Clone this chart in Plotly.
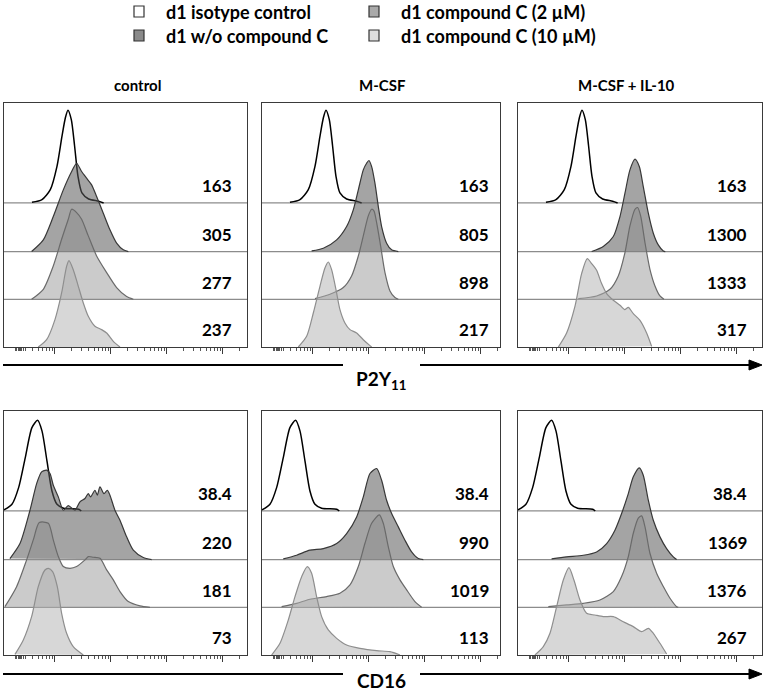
import math
import plotly.graph_objects as go

# ---------------- data (x = log10 fluorescence, y = normalized count, % of mode) ----------------
COLUMNS = ["control", "M-CSF", "M-CSF + IL-10"]
MARKERS = ["P2Y<sub>11</sub>", "CD16"]
SAMPLES = ["d1 isotype control", "d1 w/o compound C", "d1 compound C (2 µM)", "d1 compound C (10 µM)"]

MFI_P2Y11 = [["163", "305", "277", "237"],
             ["163", "805", "898", "217"],
             ["163", "1300", "1333", "317"]]
MFI_CD16 = [["38.4", "220", "181", "73"],
            ["38.4", "990", "1019", "113"],
            ["38.4", "1369", "1376", "267"]]

# P2Y11 isotype (same sample in all columns)
PISO_X = [1.589, 1.768, 1.917, 2.036, 2.125, 2.185, 2.232, 2.292, 2.351, 2.411, 2.482, 2.601, 2.780, 2.869]
PISO_Y = [0.7, 3.7, 14.8, 40.7, 74.0, 94.4, 103.0, 92.6, 63.0, 29.6, 11.1, 4.4, 1.9, 0]

P_CTRL_WO_X = [1.583, 1.792, 1.970, 2.149, 2.298, 2.387, 2.476, 2.565, 2.655, 2.744, 2.863, 2.982, 3.101, 3.220, 3.310]
P_CTRL_WO_Y = [0, 13.0, 38.9, 68.5, 88.9, 98.1, 88.9, 81.5, 74.1, 61.1, 42.6, 24.1, 9.3, 1.9, 0]
P_CTRL_2_X = [1.583, 1.792, 1.970, 2.119, 2.238, 2.298, 2.387, 2.476, 2.595, 2.744, 2.923, 3.101, 3.280, 3.399]
P_CTRL_2_Y = [0, 11.1, 37.0, 66.7, 88.9, 100.0, 96.3, 88.9, 70.4, 48.1, 29.6, 13.0, 3.0, 0]
P_CTRL_10_X = [1.702, 1.851, 2.000, 2.119, 2.208, 2.250, 2.327, 2.417, 2.506, 2.595, 2.714, 2.833, 2.923, 3.042, 3.161]
P_CTRL_10_Y = [0, 8.1, 30.4, 60.0, 89.6, 95.9, 85.9, 67.4, 48.9, 34.1, 23.0, 19.3, 15.6, 6.3, 0]

P_MCSF_WO_X = [1.976, 2.185, 2.423, 2.601, 2.720, 2.810, 2.899, 2.958, 3.000, 3.048, 3.107, 3.167, 3.226, 3.315, 3.405, 3.524]
P_MCSF_WO_Y = [0.7, 3.7, 13.0, 27.8, 46.3, 68.5, 90.7, 98.1, 101.1, 94.4, 75.9, 50.0, 27.8, 9.3, 1.9, 0]
P_MCSF_2_X = [2.036, 2.304, 2.542, 2.690, 2.810, 2.899, 2.988, 3.048, 3.089, 3.137, 3.208, 3.286, 3.375, 3.464, 3.524]
P_MCSF_2_Y = [0.7, 5.6, 13.0, 25.9, 48.1, 70.4, 92.6, 100.0, 98.1, 85.2, 59.3, 29.6, 9.3, 1.9, 0]
P_MCSF_10_X = [1.738, 1.887, 2.006, 2.125, 2.214, 2.274, 2.333, 2.411, 2.482, 2.571, 2.661, 2.780, 2.899, 3.018, 3.048]
P_MCSF_10_Y = [0, 11.9, 37.8, 67.4, 87.8, 94.4, 85.9, 63.7, 41.5, 26.7, 19.3, 15.6, 8.1, 1.5, 0]

P_IL10_WO_X = [2.405, 2.613, 2.792, 2.911, 3.000, 3.089, 3.179, 3.256, 3.327, 3.417, 3.506, 3.595, 3.685, 3.720]
P_IL10_WO_Y = [0, 5.6, 16.7, 38.9, 64.8, 90.7, 102.6, 94.4, 72.2, 42.6, 20.4, 7.4, 0.7, 0]
P_IL10_2_X = [2.167, 2.494, 2.732, 2.881, 3.000, 3.089, 3.179, 3.226, 3.280, 3.357, 3.446, 3.536, 3.625, 3.696]
P_IL10_2_Y = [0.7, 3.7, 11.1, 25.9, 51.9, 81.5, 100.0, 101.9, 92.6, 63.0, 33.3, 14.8, 3.7, 0]
P_IL10_10_X = [1.810, 1.958, 2.107, 2.226, 2.327, 2.405, 2.494, 2.583, 2.673, 2.792, 2.911, 2.994, 3.060, 3.149, 3.268, 3.387, 3.476]
P_IL10_10_Y = [0, 15.6, 45.2, 81.5, 98.1, 92.6, 85.2, 70.4, 59.3, 51.9, 46.3, 41.5, 44.0, 37.0, 29.6, 15.6, 0.7]

# CD16 isotype (same sample in all columns)
CISO_X = [1.090, 1.232, 1.351, 1.470, 1.589, 1.690, 1.768, 1.857, 1.946, 2.036, 2.155, 2.423, 2.470]
CISO_Y = [1.1, 7.4, 25.9, 59.3, 92.6, 100.7, 88.9, 55.6, 22.2, 7.4, 3.0, 1.9, 0]

C_CTRL_WO_X = [1.196, 1.375, 1.554, 1.673, 1.762, 1.851, 1.911, 1.970, 2.060, 2.149, 2.238, 2.357, 2.446, 2.536,
               2.595, 2.637, 2.714, 2.756, 2.804, 2.875, 2.935, 2.982, 3.071, 3.161, 3.280, 3.399, 3.577, 3.726]
C_CTRL_WO_Y = [1.1, 17.8, 54.8, 84.4, 97.4, 99.3, 95.6, 82.6, 69.6, 54.8, 60.0, 54.8, 64.1, 67.8,
               73.3, 69.6, 77.0, 71.5, 80.7, 73.3, 77.0, 71.5, 54.8, 43.7, 25.2, 10.4, 2.2, 0]
C_CTRL_2_X = [1.107, 1.315, 1.494, 1.613, 1.720, 1.881, 1.970, 2.060, 2.149, 2.268, 2.387, 2.536, 2.595, 2.685,
              2.804, 2.923, 3.042, 3.161, 3.310, 3.518, 3.696]
C_CTRL_2_Y = [0.7, 22.9, 52.6, 74.8, 94.1, 93.3, 74.8, 56.3, 45.2, 43.3, 45.2, 52.6, 56.3, 55.6,
              54.4, 41.5, 30.4, 17.4, 6.3, 1.5, 0]
C_CTRL_10_X = [1.286, 1.435, 1.583, 1.702, 1.821, 1.881, 1.958, 2.042, 2.119, 2.208, 2.327, 2.506]
C_CTRL_10_Y = [0.7, 16.7, 42.6, 75.9, 94.4, 96.3, 92.6, 75.9, 46.3, 24.1, 9.3, 0]

C_MCSF_WO_X = [1.470, 1.708, 1.946, 2.185, 2.423, 2.601, 2.780, 2.899, 3.018, 3.137, 3.226, 3.315, 3.405, 3.524,
               3.643, 3.762, 3.881, 3.970]
C_MCSF_WO_Y = [0.7, 4.8, 10.4, 12.2, 17.8, 28.9, 47.4, 69.6, 95.6, 101.1, 88.1, 65.9, 51.1, 36.3,
               21.5, 8.5, 1.1, 0]
C_MCSF_2_X = [1.440, 1.708, 1.946, 2.244, 2.482, 2.661, 2.810, 2.929, 3.048, 3.185, 3.256, 3.345, 3.435, 3.554,
              3.673, 3.821, 3.940]
C_MCSF_2_Y = [0.7, 4.4, 8.9, 11.9, 15.6, 24.8, 45.2, 71.1, 93.3, 102.6, 93.3, 67.4, 45.2, 30.4,
              19.3, 6.3, 0]
C_MCSF_10_X = [1.262, 1.411, 1.560, 1.679, 1.798, 1.899, 1.976, 2.065, 2.155, 2.274, 2.423, 2.601, 2.839, 3.137,
               3.375, 3.554]
C_MCSF_10_Y = [0, 13.0, 38.9, 64.8, 87.0, 98.1, 90.7, 64.8, 42.6, 27.8, 18.5, 11.1, 7.4, 4.8, 3.7, 0]

C_IL10_WO_X = [1.690, 1.958, 2.256, 2.494, 2.673, 2.821, 2.940, 3.060, 3.149, 3.256, 3.327, 3.417, 3.506, 3.625,
               3.744, 3.863, 3.923]
C_IL10_WO_Y = [0.7, 3.0, 4.8, 8.5, 17.8, 32.6, 51.1, 73.3, 91.9, 101.9, 93.7, 65.9, 43.7, 25.2, 12.2, 3.0, 0]
C_IL10_2_X = [1.631, 1.958, 2.256, 2.554, 2.792, 2.940, 3.060, 3.149, 3.238, 3.298, 3.357, 3.446, 3.565, 3.685,
              3.804, 3.923, 3.952]
C_IL10_2_Y = [0.7, 2.6, 4.4, 8.1, 17.4, 34.1, 56.3, 82.2, 98.9, 101.5, 89.6, 60.0, 37.8, 23.0, 10.0, 0.7, 0]
C_IL10_10_X = [1.393, 1.542, 1.661, 1.780, 1.899, 2.000, 2.089, 2.196, 2.315, 2.464, 2.613, 2.792, 2.970, 3.149,
               3.298, 3.417, 3.506, 3.625, 3.744]
C_IL10_10_Y = [0, 9.3, 24.1, 53.7, 83.3, 97.0, 83.3, 61.1, 46.3, 44.4, 42.6, 42.6, 37.0, 31.5, 25.9, 29.6, 24.1,
               13.0, 1.1]

ROWS = [
    dict(iso=(PISO_X, PISO_Y), mfi=MFI_P2Y11, cols=[
        [(P_CTRL_WO_X, P_CTRL_WO_Y), (P_CTRL_2_X, P_CTRL_2_Y), (P_CTRL_10_X, P_CTRL_10_Y)],
        [(P_MCSF_WO_X, P_MCSF_WO_Y), (P_MCSF_2_X, P_MCSF_2_Y), (P_MCSF_10_X, P_MCSF_10_Y)],
        [(P_IL10_WO_X, P_IL10_WO_Y), (P_IL10_2_X, P_IL10_2_Y), (P_IL10_10_X, P_IL10_10_Y)],
    ]),
    dict(iso=(CISO_X, CISO_Y), mfi=MFI_CD16, cols=[
        [(C_CTRL_WO_X, C_CTRL_WO_Y), (C_CTRL_2_X, C_CTRL_2_Y), (C_CTRL_10_X, C_CTRL_10_Y)],
        [(C_MCSF_WO_X, C_MCSF_WO_Y), (C_MCSF_2_X, C_MCSF_2_Y), (C_MCSF_10_X, C_MCSF_10_Y)],
        [(C_IL10_WO_X, C_IL10_WO_Y), (C_IL10_2_X, C_IL10_2_Y), (C_IL10_10_X, C_IL10_10_Y)],
    ]),
]

# ---------------- styling / layout ----------------
W, H = 765, 693
FONT = "Lato"
OFFSETS = [160, 106, 53, 0]          # stacking offset of each sample band
YMAX = 271
XMIN = 1.09
PX_PER_DECADE = 56.0
FILLS = [None, "rgba(90,90,90,0.55)", "rgba(140,140,140,0.45)", "rgba(175,175,175,0.5)"]
LINES = ["#000000", "#383838", "#6a6a6a", "#8e8e8e"]
LWIDTH = [1.5, 1.2, 1.2, 1.2]
LEGEND_FILL = ["#ffffff", "#8a8a8a", "#a9a9a9", "#dddddd"]

XDOM = [(4, 247), (262, 500), (518, 762)]
YDOM = [(103, 347), (411, 655)]
NUM_XFRAC = [0.948, 0.961, 0.945]


def px(x):
    return x / W


def py(y):
    return 1 - y / H


MAJOR_TICKS = [2, 3, 4, 5]
MINOR_TICKS = [1.29, 1.32, 1.35, 1.37, 1.39, 1.41, 1.44]
for d in range(1, 6):
    for m in range(2, 10):
        v = d + math.log10(m)
        if 1.46 < v < 5.43:
            MINOR_TICKS.append(round(v, 4))

fig = go.Figure()
layout = dict(
    width=W, height=H, margin=dict(l=0, r=0, t=0, b=0),
    paper_bgcolor="white", plot_bgcolor="white", showlegend=False,
    font=dict(family=FONT, color="black"),
)
shapes = []
annotations = []

for r, row in enumerate(ROWS):
    for c in range(3):
        k = r * 3 + c + 1
        xa = "x" if k == 1 else f"x{k}"
        ya = "y" if k == 1 else f"y{k}"
        curves = [row["iso"]] + row["cols"][c]
        for s, (xs, ys) in enumerate(curves):
            yv = [OFFSETS[s] + v for v in ys]
            fig.add_trace(go.Scatter(
                x=xs, y=yv, mode="lines", xaxis=xa, yaxis=ya,
                line=dict(color=LINES[s], width=LWIDTH[s], shape="spline", smoothing=0.7),
                fill="toself" if FILLS[s] else None,
                fillcolor=FILLS[s] if FILLS[s] else None,
                hoverinfo="skip", name=SAMPLES[s],
            ))
        x0, x1 = XDOM[c]
        y0, y1 = YDOM[r]
        xmax = XMIN + (x1 - x0) / PX_PER_DECADE
        layout["xaxis" if k == 1 else f"xaxis{k}"] = dict(
            domain=[px(x0), px(x1)], range=[XMIN, xmax], anchor=ya,
            showline=True, mirror=True, linecolor="#3a3a3a", linewidth=1.2,
            showgrid=False, zeroline=False, showticklabels=False,
            ticks="outside", tickvals=MAJOR_TICKS, ticklen=6, tickwidth=1.3, tickcolor="#3a3a3a",
            minor=dict(tickvals=MINOR_TICKS, ticks="outside", ticklen=3, tickwidth=1, tickcolor="#555555",
                       showgrid=False),
            fixedrange=True,
        )
        layout["yaxis" if k == 1 else f"yaxis{k}"] = dict(
            domain=[py(y1), py(y0)], range=[0, YMAX], anchor=xa,
            showline=True, mirror=True, linecolor="#3a3a3a", linewidth=1.2,
            showgrid=False, zeroline=False, showticklabels=False, ticks="",
            fixedrange=True,
        )
        for off in OFFSETS[:3]:
            shapes.append(dict(type="line", xref=f"{xa} domain", yref=ya, x0=0, x1=1, y0=off, y1=off,
                               line=dict(color="#8c8c8c", width=1.3), layer="below"))
        for s in range(4):
            annotations.append(dict(
                xref=f"{xa} domain", yref=ya, x=NUM_XFRAC[c], y=OFFSETS[s] + 19,
                xanchor="right", yanchor="middle", showarrow=False, text=row["mfi"][c][s],
                font=dict(family=FONT, size=17, weight="bold", color="black"),
            ))

# column titles
TITLE_X = [137, 382, 626]
for c, t in enumerate(COLUMNS):
    annotations.append(dict(xref="paper", yref="paper", x=px(TITLE_X[c]), y=py(85), xanchor="center",
                            yanchor="middle", showarrow=False, text=t,
                            font=dict(family=FONT, size=15, weight="bold", color="black")))

# legend (2 x 2)
LEG_POS = [(134, 12), (134, 36), (369, 12), (369, 36)]
for s, (lx, ly) in enumerate(LEG_POS):
    shapes.append(dict(type="rect", xref="paper", yref="paper", x0=px(lx), x1=px(lx + 10),
                       y0=py(ly + 5), y1=py(ly - 6), fillcolor=LEGEND_FILL[s],
                       line=dict(color="#333333", width=1.2)))
    annotations.append(dict(xref="paper", yref="paper", x=px(lx + 30), y=py(ly), xanchor="left",
                            yanchor="middle", showarrow=False, text=SAMPLES[s],
                            font=dict(family=FONT, size=18, weight="bold", color="black")))

# axis arrows with marker labels
ARROW_Y = [365, 674]
for r in range(2):
    ay = ARROW_Y[r]
    shapes.append(dict(type="line", xref="paper", yref="paper", x0=px(3), x1=px(343), y0=py(ay), y1=py(ay),
                       line=dict(color="black", width=2)))
    shapes.append(dict(type="line", xref="paper", yref="paper", x0=px(420), x1=px(752), y0=py(ay), y1=py(ay),
                       line=dict(color="black", width=2)))
    shapes.append(dict(type="path", xref="paper", yref="paper",
                       path=f"M {px(749)} {py(ay - 5)} L {px(762)} {py(ay)} L {px(749)} {py(ay + 5)} Z",
                       fillcolor="black", line=dict(color="black", width=1)))

annotations.append(dict(xref="paper", yref="paper", x=px(381), y=py(380), xanchor="center",
                        yanchor="middle", showarrow=False, text=MARKERS[0],
                        font=dict(family=FONT, size=19, weight="bold", color="black")))
annotations.append(dict(xref="paper", yref="paper", x=px(381), y=0, xanchor="center",
                        yanchor="bottom", showarrow=False, text=MARKERS[1], borderpad=0,
                        font=dict(family=FONT, size=19, weight="bold", color="black")))

layout["shapes"] = shapes
layout["annotations"] = annotations
fig.update_layout(**layout)
fig.write_html("out.html", config={"displayModeBar": False},
               post_script="document.body.style.margin='0px';document.body.style.padding='0px';")
